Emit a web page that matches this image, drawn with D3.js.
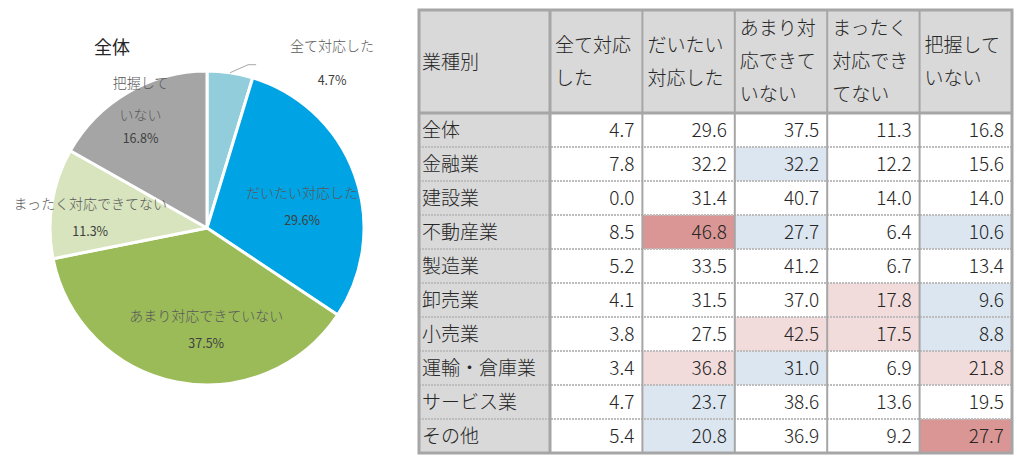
<!DOCTYPE html>
<html lang="ja">
<head>
<meta charset="UTF-8" />
<title>業種別 対応状況</title>
<script src="https://d3js.org/d3.v7.min.js"></script>
<style>
    body { margin: 0; background: #fff; }
    svg { display: block; font-family: "Noto Sans CJK JP", "Noto Sans", sans-serif; }
    .pie-label { font-size: 14px; fill: #595959; font-weight: 300; }
    .pie-pct { font-size: 12.5px; fill: #404040; }
    .cell-text { font-size: 19px; fill: #262626; font-weight: 300; }
</style>
</head>
<body>
<script>
    // ---- data ----
    const categories = ['全て対応した', 'だいたい対応した', 'あまり対応できていない', 'まったく対応できてない', '把握していない'];
    const headerLines = [['全て対応', 'した'], ['だいたい', '対応した'], ['あまり対', '応できて', 'いない'], ['まったく', '対応でき', 'てない'], ['把握して', 'いない']];
    const industries = ['全体', '金融業', '建設業', '不動産業', '製造業', '卸売業', '小売業', '運輸・倉庫業', 'サービス業', 'その他'];
    const allShare = [4.7, 29.6, 37.5, 11.3, 16.8];
    const values = [
        [4.7, 29.6, 37.5, 11.3, 16.8],
        [7.8, 32.2, 32.2, 12.2, 15.6],
        [0.0, 31.4, 40.7, 14.0, 14.0],
        [8.5, 46.8, 27.7, 6.4, 10.6],
        [5.2, 33.5, 41.2, 6.7, 13.4],
        [4.1, 31.5, 37.0, 17.8, 9.6],
        [3.8, 27.5, 42.5, 17.5, 8.8],
        [3.4, 36.8, 31.0, 6.9, 21.8],
        [4.7, 23.7, 38.6, 13.6, 19.5],
        [5.4, 20.8, 36.9, 9.2, 27.7]
    ];
    // highlight level per cell: '' none, 'lo' below, 'hi' above, 'top' far above
    const marks = [
        ['', '', '', '', ''],
        ['', '', 'lo', '', ''],
        ['', '', '', '', ''],
        ['', 'top', 'lo', '', 'lo'],
        ['', '', '', '', ''],
        ['', '', '', 'hi', 'lo'],
        ['', '', 'hi', 'hi', 'lo'],
        ['', 'hi', 'lo', '', 'hi'],
        ['', 'lo', '', '', ''],
        ['', 'lo', '', '', 'top']
    ];

    // ---- styles ----
    const sliceColors = ['#92CDDC', '#00A3E3', '#9BBB59', '#D7E4BD', '#A5A5A5'];
    const markFill = { '': '#FFFFFF', lo: '#DCE6F1', hi: '#F2DCDB', top: '#DA9694' };
    // label nudges (excel-like placement)
    const labelNudge = [[0, 0], [-1, 13], [19, 2], [-16, 6], [-15, -29]];

    const W = 1017, H = 463;
    const svg = d3.select('body').append('svg').attr('width', W).attr('height', H);

    // ---- pie ----
    const cx = 207, cy = 228, R = 157;
    const pie = d3.pie().value(d => d).sort(null);
    const arc = d3.arc().innerRadius(0).outerRadius(R);
    const labelArc = d3.arc().innerRadius(R * 0.65).outerRadius(R * 0.65);
    const outerArc = d3.arc().innerRadius(R).outerRadius(R);

    const pg = svg.append('g').attr('transform', `translate(${cx},${cy})`);
    const slices = pie(allShare);

    pg.selectAll('path.slice')
        .data(slices)
        .enter().append('path')
        .attr('class', 'slice')
        .attr('d', arc)
        .attr('fill', (d, i) => sliceColors[i])
        .attr('stroke', '#fff')
        .attr('stroke-width', 3)
        .attr('stroke-linejoin', 'round');

    svg.append('text')
        .attr('x', 112).attr('y', 54)
        .attr('text-anchor', 'middle')
        .attr('font-size', 18).attr('fill', '#262626')
        .text('全体');

    slices.forEach((d, i) => {
        const name = categories[i];
        const pct = allShare[i].toFixed(1) + '%';
        if (i === 0) {
            // small slice: outside label with leader line
            const p0 = outerArc.centroid(d);
            const p1 = [p0[0] + 18, p0[1] - 8];
            const p2 = [p1[0] + 8, p1[1]];
            pg.append('polyline')
                .attr('points', [p0, p1, p2].map(p => p.join(',')).join(' '))
                .attr('fill', 'none').attr('stroke', '#A6A6A6').attr('stroke-width', 1);
            const lx = p2[0] + 76, ly = p2[1] + 3;
            pg.append('text').attr('class', 'pie-label')
                .attr('x', lx).attr('y', ly - 17).attr('text-anchor', 'middle').text(name);
            pg.append('text').attr('class', 'pie-pct')
                .attr('x', lx).attr('y', ly + 17).attr('text-anchor', 'middle').text(pct);
            return;
        }
        const c = labelArc.centroid(d);
        const x = c[0] + labelNudge[i][0], y = c[1] + labelNudge[i][1];
        if (i === 4) {
            pg.append('text').attr('class', 'pie-label')
                .attr('x', x).attr('y', y - 23).attr('text-anchor', 'middle').text('把握して');
            pg.append('text').attr('class', 'pie-label')
                .attr('x', x).attr('y', y + 9).attr('text-anchor', 'middle').text('いない');
            pg.append('text').attr('class', 'pie-pct')
                .attr('x', x).attr('y', y + 32).attr('text-anchor', 'middle').text(pct);
        } else {
            pg.append('text').attr('class', 'pie-label')
                .attr('x', x).attr('y', y - 9).attr('text-anchor', 'middle').text(name);
            pg.append('text').attr('class', 'pie-pct')
                .attr('x', x).attr('y', y + 18).attr('text-anchor', 'middle').text(pct);
        }
    });

    // ---- table ----
    const tLeft = 419, tRight = 1012, firstColW = 131;
    const tTop = 10, headH = 103, tBottom = 453;

    const xCol = d3.scaleBand().domain(d3.range(categories.length))
        .range([tLeft + firstColW, tRight]);
    const yRow = d3.scaleBand().domain(d3.range(industries.length))
        .range([tTop + headH, tBottom]);

    const tg = svg.append('g');

    // header background
    tg.append('rect')
        .attr('x', tLeft).attr('y', tTop)
        .attr('width', tRight - tLeft).attr('height', headH)
        .attr('fill', '#D9D9D9');
    // first column background
    tg.append('rect')
        .attr('x', tLeft).attr('y', tTop + headH)
        .attr('width', firstColW).attr('height', tBottom - tTop - headH)
        .attr('fill', '#D9D9D9');

    // value cells
    const rows = tg.selectAll('g.row')
        .data(values)
        .enter().append('g')
        .attr('class', 'row')
        .attr('transform', (d, i) => `translate(0,${yRow(i)})`);

    rows.selectAll('rect.cell')
        .data((d, i) => d.map((v, j) => ({ v, m: marks[i][j], j })))
        .enter().append('rect')
        .attr('class', 'cell')
        .attr('x', d => xCol(d.j))
        .attr('y', 0)
        .attr('width', xCol.bandwidth())
        .attr('height', yRow.bandwidth())
        .attr('fill', d => markFill[d.m]);

    rows.selectAll('text.val')
        .data((d, i) => d.map((v, j) => ({ v, j })))
        .enter().append('text')
        .attr('class', 'cell-text val')
        .attr('x', d => xCol(d.j) + xCol.bandwidth() - 8)
        .attr('y', yRow.bandwidth() / 2)
        .attr('dy', '0.36em')
        .attr('text-anchor', 'end')
        .text(d => d.v.toFixed(1));

    rows.append('text')
        .attr('class', 'cell-text')
        .attr('x', tLeft + 3)
        .attr('y', yRow.bandwidth() / 2)
        .attr('dy', '0.36em')
        .text((d, i) => industries[i]);

    // horizontal dotted row separators
    tg.selectAll('line.hsep')
        .data(d3.range(1, industries.length))
        .enter().append('line')
        .attr('class', 'hsep')
        .attr('x1', tLeft).attr('x2', tRight)
        .attr('y1', i => yRow(i)).attr('y2', i => yRow(i))
        .attr('stroke', '#BDBDBD').attr('stroke-width', 2)
        .attr('stroke-dasharray', '2,1');

    // vertical separators between value columns
    tg.selectAll('line.vsep')
        .data(d3.range(1, categories.length))
        .enter().append('line')
        .attr('class', 'vsep')
        .attr('x1', i => xCol(i)).attr('x2', i => xCol(i))
        .attr('y1', tTop).attr('y2', tBottom)
        .attr('stroke', '#A6A6A6').attr('stroke-width', 2);

    // header texts
    tg.append('text')
        .attr('class', 'cell-text')
        .attr('x', tLeft + 3).attr('y', tTop + headH / 2 + 1)
        .attr('dy', '0.36em')
        .text('業種別');

    const lineGap = 33;
    headerLines.forEach((lines, j) => {
        const y0 = tTop + headH / 2 - (lines.length - 1) * lineGap / 2;
        lines.forEach((ln, k) => {
            tg.append('text')
                .attr('class', 'cell-text')
                .attr('x', xCol(j) + 5)
                .attr('y', y0 + k * lineGap)
                .attr('dy', '0.36em')
                .text(ln);
        });
    });

    // heavy borders
    const heavy = '#A6A6A6';
    tg.append('line')
        .attr('x1', tLeft).attr('x2', tRight)
        .attr('y1', tTop + headH).attr('y2', tTop + headH)
        .attr('stroke', heavy).attr('stroke-width', 3);
    tg.append('line')
        .attr('x1', tLeft + firstColW).attr('x2', tLeft + firstColW)
        .attr('y1', tTop).attr('y2', tBottom)
        .attr('stroke', heavy).attr('stroke-width', 3);
    tg.append('rect')
        .attr('x', tLeft).attr('y', tTop)
        .attr('width', tRight - tLeft).attr('height', tBottom - tTop)
        .attr('fill', 'none')
        .attr('stroke', heavy).attr('stroke-width', 3);
</script>
</body>
</html>
